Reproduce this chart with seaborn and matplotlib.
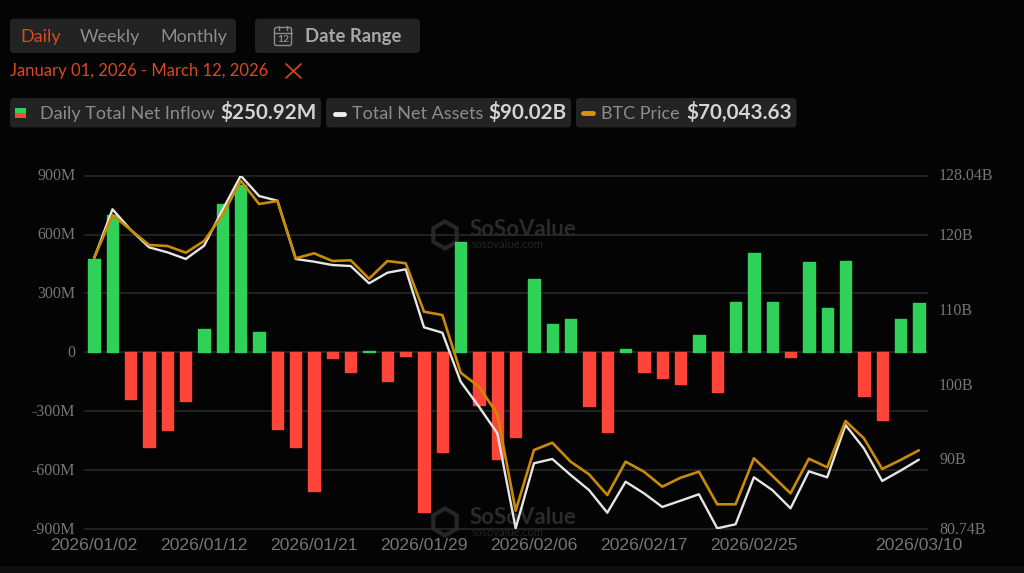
import numpy as np
import pandas as pd
import matplotlib
matplotlib.use("Agg")
import matplotlib.pyplot as plt
from matplotlib.patches import FancyBboxPatch, Rectangle, RegularPolygon
from matplotlib.transforms import ScaledTranslation
import seaborn as sns

# trading days shown on the chart
dates = ["2026/01/02", "2026/01/05", "2026/01/06", "2026/01/07", "2026/01/08", "2026/01/09",
         "2026/01/12", "2026/01/13", "2026/01/14", "2026/01/15", "2026/01/16", "2026/01/20",
         "2026/01/21", "2026/01/22", "2026/01/23", "2026/01/26", "2026/01/27", "2026/01/28",
         "2026/01/29", "2026/01/30", "2026/02/02", "2026/02/03", "2026/02/04", "2026/02/05",
         "2026/02/06", "2026/02/09", "2026/02/10", "2026/02/11", "2026/02/12", "2026/02/13",
         "2026/02/17", "2026/02/18", "2026/02/19", "2026/02/20", "2026/02/23", "2026/02/24",
         "2026/02/25", "2026/02/26", "2026/02/27", "2026/03/02", "2026/03/03", "2026/03/04",
         "2026/03/05", "2026/03/06", "2026/03/09", "2026/03/10"]

# daily net inflow, $M
net_inflow = [474, 699, -240, -482, -396, -248, 117, 755, 852, 102, -392, -481, -706, -29, -100,
              8, -145, -17, -815, -506, 563, -267, -542, -433, 372, 146, 168, -274, -408, 15,
              -102, -131, -163, 88, -202, 258, 507, 256, -25, 458, 226, 463, -224, -346, 168, 250.92]

# total net assets, $B
net_assets = [117.02, 123.54, 120.77, 118.45, 117.78, 116.89, 118.67, 123.45, 128.04, 125.32,
              124.69, 116.89, 116.53, 116.08, 115.95, 113.63, 115.05, 115.51, 107.74, 107.02,
              100.46, 97.11, 93.55, 80.83, 89.54, 90.11, 87.97, 85.96, 82.92, 87.07,
              85.52, 83.69, 84.53, 85.39, 80.83, 81.37, 87.66, 85.96, 83.51, 88.46,
              87.66, 94.66, 91.54, 87.17, 88.55, 90.02]

# BTC price, $
btc_price = [89908, 94349, 92800, 91250, 91147, 90455, 91664, 94349, 97893, 95486,
             95796, 89877, 90393, 89598, 89670, 87769, 89598, 89360, 84360, 84019,
             78059, 76613, 73793, 63804, 70074, 70828, 68865, 67564, 65425, 68865,
             67832, 66283, 67213, 67832, 64465, 64465, 69217, 67419, 65601, 69175,
             68287, 73070, 71283, 68111, 69041, 70043.63]

left_ticks = [-900, -600, -300, 0, 300, 600, 900]
left_labels = ["-900M", "-600M", "-300M", "0", "300M", "600M", "900M"]
right_ticks = [80.74, 90, 100, 110, 120, 128.04]
right_labels = ["80.74B", "90B", "100B", "110B", "120B", "128.04B"]
date_ticks = [0, 6, 12, 18, 24, 30, 36, 45]

BG = "#040404"
PANEL = "#232323"
GRID = "#2b2b2b"
GREEN = "#30d158"
RED = "#ff453a"
GOLD = "#c98a05"
WHITE = "#e6e6e6"
ORANGE = "#d9481f"
AXIS_TEXT = "#757575"

sns.set_theme(style="dark", rc={"figure.facecolor": BG, "axes.facecolor": BG})
plt.rcParams["font.family"] = ["Lato", "DejaVu Sans"]

W, H = 1024, 573
fig = plt.figure(figsize=(W / 100, H / 100), dpi=100)

# main axes, placed to the pixel box of the plot area
ax = fig.add_axes([85 / W, 1 - 529 / H, 843 / W, 353.3 / H], zorder=1)
ax.patch.set_alpha(0)
df = pd.DataFrame({"date": dates, "inflow": net_inflow})
df["sign"] = np.where(df["inflow"] >= 0, "up", "down")
sns.barplot(data=df, x="date", y="inflow", hue="sign", palette={"up": GREEN, "down": RED},
            dodge=False, legend=False, width=0.62, saturation=1, ax=ax, zorder=2)
for bar in ax.patches:
    bar.set_edgecolor(bar.get_facecolor())
    bar.set_linewidth(1.0)
    bar.set_joinstyle("round")

ax.set_xlim(-0.5, 45.5)
ax.set_ylim(-900, 900)
ax.set_yticks(left_ticks)
ax.set_yticklabels(left_labels, family="Liberation Serif", fontsize=11.5, color=AXIS_TEXT)
ax.set_xticks(date_ticks)
ax.set_xticklabels([dates[i] for i in date_ticks], family="Liberation Sans", fontsize=12.6, color=AXIS_TEXT)
ax.tick_params(axis="y", length=0, pad=7)
ax.tick_params(axis="x", length=0, pad=6.5)
ax.set_xlabel("")
ax.set_ylabel("")
ax.grid(False)
for level in left_ticks:
    ax.axhline(level, color=GRID, lw=1.1, zorder=1, clip_on=False)
for s in ax.spines.values():
    s.set_visible(False)

xs = np.arange(len(dates))

# net assets on the visible right axis
ax2 = ax.twinx()
ax2.set_zorder(2)
sns.lineplot(x=xs, y=net_assets, color=WHITE, lw=1.7, ax=ax2, zorder=3)
ax2.set_ylim(80.74, 128.04)
ax2.set_yticks(right_ticks)
ax2.set_yticklabels(right_labels, family="Liberation Serif", fontsize=11.5, color=AXIS_TEXT)
ax2.tick_params(axis="y", length=0, pad=8)
ax2.set_ylabel("")
ax2.grid(False)
for s in ax2.spines.values():
    s.set_visible(False)

# tick labels sit a little above their levels
nudge = ScaledTranslation(0, 1.5 / 100, fig.dpi_scale_trans)
for lab in ax.get_yticklabels() + ax2.get_yticklabels():
    lab.set_transform(lab.get_transform() + nudge)

# btc price has its own hidden scale
ax3 = ax.twinx()
ax3.set_zorder(3)
sns.lineplot(x=xs, y=btc_price, color=GOLD, lw=1.9, ax=ax3, zorder=4)
ax3.set_ylim(61913, 98410)
ax3.axis("off")

# watermarks go under the chart
wm = fig.add_axes([0, 0, 1, 1], zorder=0)
wm.set_xlim(0, W)
wm.set_ylim(H, 0)
wm.axis("off")
for text_y, sub_y, hex_y in [(229, 244, 235), (517, 532.7, 522)]:
    wm.add_patch(RegularPolygon((445, hex_y), 6, radius=13.5, fc="none", ec="#262626", lw=3))
    wm.text(470, text_y, "SoSoValue", color="#2a2a2a", fontsize=16, fontweight="bold", va="center", ha="left")
    wm.text(471.5, sub_y, "sosovalue.com", color="#242424", fontsize=8, va="center", ha="left")

# header controls drawn in pixel coordinates
ui = fig.add_axes([0, 0, 1, 1], zorder=5)
ui.set_xlim(0, W)
ui.set_ylim(H, 0)
ui.axis("off")
ui.patch.set_alpha(0)


def panel(x0, y0, x1, y1):
    ui.add_patch(FancyBboxPatch((x0 + 4, y0 + 4), x1 - x0 - 8, y1 - y0 - 8,
                                boxstyle="round,pad=4,rounding_size=4", fc=PANEL, ec="none"))


def label(x, y, s, color="#8c8c8c", size=13, weight="normal"):
    ui.text(x, y, s, color=color, fontsize=size, fontweight=weight, va="baseline", ha="left")


panel(10, 18.7, 236, 53)
panel(255, 18.7, 420, 53)
panel(10, 98, 321, 127.5)
panel(326, 98, 571, 127.5)
panel(576, 98, 796.5, 127.5)

label(20, 42, "Daily", ORANGE)
label(80, 42, "Weekly")
label(160, 42, "Monthly")
label(305, 42, "Date Range", "#a8a8a8", size=13.3, weight="bold")

# calendar icon
ui.add_patch(FancyBboxPatch((275, 28), 16, 17, boxstyle="round,pad=0.5,rounding_size=2", fc="none", ec="#8c8c8c", lw=1))
ui.plot([274.5, 291.5], [32.5, 32.5], color="#8c8c8c", lw=1)
ui.plot([279, 279], [26, 29.5], color="#8c8c8c", lw=1)
ui.plot([287, 287], [26, 29.5], color="#8c8c8c", lw=1)
ui.text(283, 39.2, "12", color="#8c8c8c", fontsize=7.5, ha="center", va="center", fontweight="bold")

label(10, 76, "January 01, 2026 - March 12, 2026", ORANGE, size=12)
ui.plot([286, 301], [64, 78], color=ORANGE, lw=1.2)
ui.plot([286, 301], [78, 64], color=ORANGE, lw=1.2)

# legend pills
ui.add_patch(Rectangle((15, 108), 10.5, 4.8, fc=GREEN, ec="none"))
ui.add_patch(Rectangle((15, 112.8), 10.5, 5.5, fc=RED, ec="none"))
label(40, 119, "Daily Total Net Inflow")
label(220, 119, "$250.92M", "#d4d4d4", size=14.9, weight="bold")
ui.plot([335, 344.3], [113.5, 113.5], color="#eeeeee", lw=3.5, solid_capstyle="round")
label(352, 119, "Total Net Assets")
label(488, 119, "$90.02B", "#d4d4d4", size=14.9, weight="bold")
ui.plot([582.7, 593], [113, 113], color="#d9950a", lw=3.5, solid_capstyle="round")
label(601, 119, "BTC Price")
label(686, 119, "$70,043.63", "#d4d4d4", size=14.9, weight="bold")

# slightly lighter strip at the very bottom
ui.add_patch(Rectangle((0, 566), W, 7, fc="#0e0e0e", ec="none"))

fig.savefig("out.png", dpi=100, facecolor=BG)
